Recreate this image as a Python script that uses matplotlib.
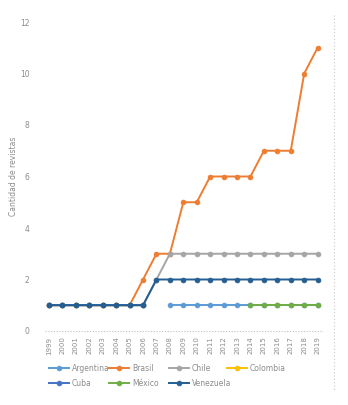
import numpy as np
import matplotlib
matplotlib.use("Agg")
import matplotlib.pyplot as plt
from matplotlib.lines import Line2D

years = list(range(1999, 2020))
nan = np.nan
argentina = [nan]*9 + [1]*12
brasil = [1, 1, 1, 1, 1, 1, 1, 2, 3, 3, 5, 5, 6, 6, 6, 6, 7, 7, 7, 10, 11]
chile = [1]*8 + [2] + [3]*12
colombia = [1]*8 + [nan]*13
cuba = [1]*8 + [nan]*13
mexico = [nan]*15 + [1]*6
venezuela = [1]*8 + [2]*13

series = [
    ("Argentina", argentina, "#5B9BD5"),
    ("Brasil", brasil, "#ED7D31"),
    ("Chile", chile, "#A5A5A5"),
    ("Colombia", colombia, "#FFC000"),
    ("Cuba", cuba, "#4472C4"),
    ("México", mexico, "#70AD47"),
    ("Venezuela", venezuela, "#255E91"),
]

plt.rcParams['font.family'] = ['DejaVu Sans']
txt = "#8c8c8c"

fig = plt.figure(figsize=(3.48, 4.05), dpi=100)
ax = fig.add_axes([45/348, 74/405, 278/348, 309/405])

handles = {}
for name, vals, col in series:
    h, = ax.plot(years, vals, color=col, lw=1.4, marker="o", ms=3.4,
                 markerfacecolor=col, markeredgecolor=col, markeredgewidth=0.6,
                 label=name, solid_capstyle="butt")
    handles[name] = h

ax.set_xlim(1998.7, 2019.4)
ax.set_ylim(0, 12)
ax.set_yticks(range(0, 13, 2))
ax.set_xticks(years)
ax.set_xticklabels([str(y) for y in years], rotation=90, fontsize=5, color=txt)
ax.tick_params(axis="y", labelsize=5.5, colors=txt, length=0, pad=11)
ax.tick_params(axis="x", length=0, pad=4)
for s in ax.spines.values():
    s.set_visible(False)
ax.axhline(0, color="#bfbfbf", lw=0.8, ls=(0, (1, 1.5)), zorder=0.5, clip_on=False)
ax.set_ylabel("Cantidad de revistas", fontsize=5.5, color=txt)
ax.yaxis.set_label_coords(-27/278, 0.5)

fig.add_artist(Line2D([334/348, 334/348], [1 - 15/405, 1 - 390/405],
                      transform=fig.transFigure, color="#c8c8c8", lw=0.8,
                      ls=(0, (1, 2))))

columns = [["Argentina", "Cuba"], ["Brasil", "México"], ["Chile", "Venezuela"], ["Colombia"]]
col_x = [48, 108, 168, 226]
for names, cx in zip(columns, col_x):
    leg = fig.legend([handles[n] for n in names], names, ncol=1,
                     loc="upper left", bbox_to_anchor=(cx/348, 1 - 364/405),
                     frameon=False, fontsize=5.5, handlelength=2.9, handletextpad=0.25,
                     labelspacing=0.75, borderaxespad=0, borderpad=0)
    for t in leg.get_texts():
        t.set_color(txt)

fig.savefig("out.png", dpi=100)
